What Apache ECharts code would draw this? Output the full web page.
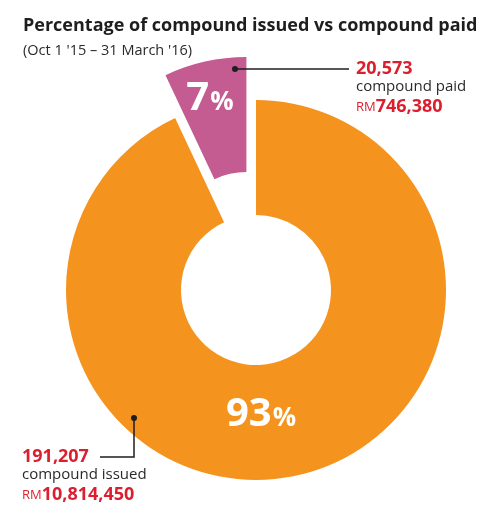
<!DOCTYPE html>
<html>
<head>
<meta charset="utf-8">
<script src="https://cdn.jsdelivr.net/npm/echarts@6/dist/echarts.min.js"></script>
<style>
  html, body { margin: 0; padding: 0; background: #fff; }
  #chart { width: 500px; height: 525px; }
</style>
</head>
<body>
<div id="chart"></div>
<script>
// data
const categories = ['compound issued', 'compound paid'];
const sharePercent = [93, 7];
const compoundCounts = [191207, 20573];
const compoundAmounts = [10814450, 746380];

const colors = ['#f5931f', '#c45b91'];
const red = '#dc1f2e';
const font = '"Open Sans", "DejaVu Sans", sans-serif';

const fmt = (n) => n.toLocaleString('en-US');

// 百分比标签
function pctText(i) {
    return '{big|' + sharePercent[i] + '}{small|%}';
}

// 标注文字: 数量 / 名称 / 金额
function calloutText(i) {
    return '{num|' + fmt(compoundCounts[i]) + '}\n' +
        '{name|' + categories[i] + '}\n' +
        '{rm|RM}{amt|' + fmt(compoundAmounts[i]) + '}';
}

// graphic 里的文字用 fill 而不是 color
const pctRich = {
    big: {fontSize: 40, fontWeight: 'bold', fontFamily: font, fill: '#fff', verticalAlign: 'bottom'},
    small: {fontSize: 26, fontWeight: 'bold', fontFamily: font, fill: '#fff', verticalAlign: 'bottom', padding: [0, 0, 3, 1]}
};

const calloutRich = {
    num: {fontSize: 18, fontWeight: 'bold', fontFamily: font, fill: red, lineHeight: 18},
    name: {fontSize: 15, fontFamily: font, fill: '#2a2a2a', lineHeight: 18},
    rm: {fontSize: 13, fontFamily: font, fill: red, lineHeight: 20, verticalAlign: 'bottom', padding: [0, 0, 2, 0]},
    amt: {fontSize: 18, fontWeight: 'bold', fontFamily: font, fill: red, lineHeight: 20, verticalAlign: 'bottom'}
};

const chart = echarts.init(document.getElementById('chart'));

chart.setOption({
    animation: false,
    title: {
        text: 'Percentage of compound issued vs compound paid',
        subtext: "(Oct 1 '15 \u2013 31 March '16)",
        left: 23,
        top: 17,
        padding: 0,
        itemGap: 8,
        textStyle: {fontFamily: font, fontSize: 18, fontWeight: 'bold', color: '#1e1e1e'},
        subtextStyle: {fontFamily: font, fontSize: 14.5, color: '#2a2a2a'}
    },
    series: [{
        type: 'pie',
        center: [256, 290],
        radius: [75, 190],
        startAngle: 90,
        clockwise: true,
        selectedMode: 'single',
        selectedOffset: 44,
        silent: true,
        avoidLabelOverlap: false,
        label: {show: false},
        labelLine: {show: false},
        emphasis: {disabled: true},
        data: categories.map((name, i) => ({
            name: name,
            value: sharePercent[i],
            selected: i === 1,
            itemStyle: {color: colors[i]}
        }))
    }],
    graphic: {
        elements: [
            // 百分比
            {type: 'text', z: 100, x: 261, y: 415, style: {text: pctText(0), rich: pctRich, align: 'center', verticalAlign: 'middle'}},
            {type: 'text', z: 100, x: 210, y: 99, style: {text: pctText(1), rich: pctRich, align: 'center', verticalAlign: 'middle'}},
            // compound paid 标注
            {type: 'polyline', z: 100, shape: {points: [[235, 69], [349, 69]]}, style: {stroke: '#1e1e1e', lineWidth: 1.5, fill: null}},
            {type: 'circle', z: 101, shape: {cx: 235, cy: 69, r: 3}, style: {fill: '#1e1e1e'}},
            {type: 'text', z: 100, x: 356, y: 60, style: {text: calloutText(1), rich: calloutRich, align: 'left', verticalAlign: 'top'}},
            // compound issued 标注
            {type: 'polyline', z: 100, shape: {points: [[134, 418], [134, 457], [100, 457]]}, style: {stroke: '#1e1e1e', lineWidth: 1.5, fill: null}},
            {type: 'circle', z: 101, shape: {cx: 134, cy: 418, r: 3}, style: {fill: '#1e1e1e'}},
            {type: 'text', z: 100, x: 22, y: 448, style: {text: calloutText(0), rich: calloutRich, align: 'left', verticalAlign: 'top'}}
        ]
    }
});
</script>
</body>
</html>
